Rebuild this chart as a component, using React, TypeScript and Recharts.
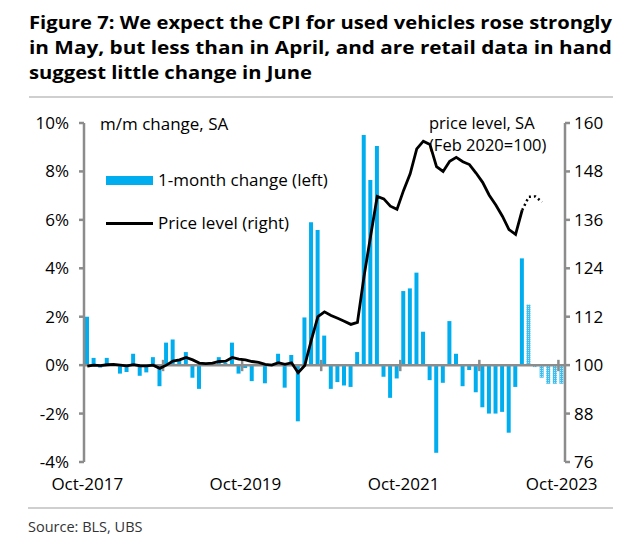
import React from 'react';
import { ComposedChart, Bar, Line, XAxis, YAxis, ReferenceLine, Cell } from 'recharts';

const FONT = '"Open Sans", "Noto Sans", sans-serif';
const BLUE = '#00AEEF';
const GREY = '#8c8c8c';

// Monthly, Oct-2017 .. Oct-2023
const changes: number[] = [
  2.0, 0.3, -0.1, 0.3, 0.03, -0.35, -0.28, 0.47, -0.44, -0.3, 0.33, -0.87,
  0.93, 1.06, 0.18, 0.54, -0.52, -0.98, 0.05, 0.1, 0.33, 0.1, 0.93, -0.35,
  -0.12, -0.66, 0.05, -0.75, 0.05, 0.47, -0.93, 0.42, -2.32, 1.97, 5.9, 5.58,
  1.22, -0.98, -0.7, -0.84, -0.9, 0.54, 9.5, 7.65, 9.05, -0.48, -1.35, -0.55,
  3.06, 3.17, 3.82, 1.38, -0.62, -3.62, -0.73, 1.82, 0.47, -0.87, -0.2, -1.12,
  -1.74, -2.0, -2.0, -1.93, -2.79, -0.9, 4.41, 2.5, -0.08, -0.52, -0.77, -0.77,
  -0.77,
];
const forecastStart = 67; // May-2023 onwards are forecasts

const priceLevel: number[] = [
  99.75, 100.0, 99.9, 100.1, 100.2, 100.0, 99.8, 100.1, 99.85, 99.8, 100.0, 99.2,
  100.0, 101.0, 101.3, 101.9, 101.3, 100.5, 100.4, 100.5, 100.9, 101.0, 101.9, 101.5,
  101.3, 100.9, 100.7, 100.2, 100.0, 100.6, 100.2, 100.6, 98.1, 99.9, 106.2, 112.0,
  113.2, 112.3, 111.6, 110.9, 110.1, 110.6, 122.0, 132.0, 141.8, 141.2, 139.4, 138.6,
  143.3, 147.4, 153.6, 155.5, 154.7, 149.2, 148.0, 150.5, 151.5, 150.4, 149.7, 147.6,
  145.3, 142.1, 139.7, 136.9, 133.6, 132.4, 138.4,
];
const priceForecast: number[] = [138.4, 141.7, 141.8, 140.4]; // Apr-2023 .. Jul-2023
const priceForecastStart = 66;

const leftTicks = [-4, -2, 0, 2, 4, 6, 8, 10];
const rightTicks = [76, 88, 100, 112, 124, 136, 148, 160];
const xLabelTicks = [0.5, 24.5, 48.5, 72.5];
const xLabels = ['Oct-2017', 'Oct-2019', 'Oct-2021', 'Oct-2023'];
const yearTicks = [12, 24, 36, 48, 60, 72];

const titleLines = [
  'Figure 7: We expect the CPI for used vehicles rose strongly',
  'in May, but less than in April, and are retail data in hand',
  'suggest little change in June',
];

const data = changes.map((c, i) => ({
  x: i + 0.5,
  chg: c,
  fc: i >= forecastStart,
  lvl: i < priceLevel.length ? priceLevel[i] : null,
  lvlF:
    i >= priceForecastStart && i < priceForecastStart + priceForecast.length
      ? priceForecast[i - priceForecastStart]
      : null,
}));

export default function App() {
  return (
    <div style={{ position: 'absolute', left: 0, top: 0, width: 640, height: 552, background: '#fff' }}>
      <div style={{ position: 'absolute', left: 0, top: 0 }}>
        <ComposedChart
          width={640}
          height={552}
          data={data}
          margin={{ top: 123, right: 15, bottom: 60, left: 24 }}
        >
          <defs>
            <pattern id="fcDots" width="2" height="2" patternUnits="userSpaceOnUse">
              <rect width="2" height="2" fill="#3fbdee" />
              <rect width="1" height="1" fill="#b3e6f9" />
            </pattern>
          </defs>
          <XAxis
            type="number"
            dataKey="x"
            domain={[0, 73]}
            ticks={xLabelTicks}
            tickFormatter={(v: number) => xLabels[xLabelTicks.indexOf(v)] ?? ''}
            axisLine={false}
            tickLine={false}
            tickSize={0}
            tickMargin={16}
            height={30}
            interval={0}
            tick={{ fill: '#000', fontSize: 17, fontFamily: FONT }}
          />
          <YAxis
            yAxisId="left"
            domain={[-4, 10]}
            ticks={leftTicks}
            tickFormatter={(v: number) => `${v}%`}
            width={60}
            interval={0}
            axisLine={{ stroke: GREY, strokeWidth: 2.5 }}
            tickLine={{ stroke: GREY, strokeWidth: 2.5 }}
            tickSize={5}
            tickMargin={10}
            tick={{ fill: '#000', fontSize: 17, fontFamily: FONT }}
          />
          <YAxis
            yAxisId="right"
            orientation="right"
            domain={[76, 160]}
            ticks={rightTicks}
            width={60}
            interval={0}
            axisLine={{ stroke: GREY, strokeWidth: 2.5 }}
            tickLine={{ stroke: GREY, strokeWidth: 2.5 }}
            tickSize={5}
            tickMargin={4}
            tick={{ fill: '#000', fontSize: 17, fontFamily: FONT, textAnchor: 'start' }}
          />
          <Bar dataKey="chg" yAxisId="left" barSize={4} isAnimationActive={false}>
            {data.map((d, i) => (
              <Cell key={i} fill={d.fc ? 'url(#fcDots)' : BLUE} />
            ))}
          </Bar>
          <ReferenceLine y={0} yAxisId="left" stroke={GREY} strokeWidth={2.5} />
          {yearTicks.map((t) => (
            <ReferenceLine
              key={t}
              yAxisId="left"
              segment={[{ x: t, y: -0.25 }, { x: t, y: 0.22 }]}
              stroke={GREY}
              strokeWidth={2.5}
            />
          ))}
          <Line
            dataKey="lvl"
            yAxisId="right"
            type="linear"
            stroke="#000"
            strokeWidth={2.8}
            dot={false}
            isAnimationActive={false}
            connectNulls={false}
          />
          <Line
            dataKey="lvlF"
            yAxisId="right"
            type="linear"
            stroke="#000"
            strokeWidth={2.5}
            strokeDasharray="2 3"
            dot={false}
            isAnimationActive={false}
            connectNulls={false}
          />
        </ComposedChart>
      </div>
      <svg
        width={640}
        height={552}
        style={{ position: 'absolute', left: 0, top: 0, pointerEvents: 'none' }}
        fontFamily={FONT}
      >
        {titleLines.map((t, i) => (
          <text
            key={i}
            x={29}
            y={29 + i * 25}
            fontSize={18.5}
            fontWeight={700}
            fill="#000"
            textLength={i < 2 ? 583 : 283}
            lengthAdjust="spacingAndGlyphs"
          >
            {t}
          </text>
        ))}
        <line x1={29} x2={613} y1={97} y2={97} stroke="#cfcfcf" strokeWidth={2} />
        <text x={100} y={130} fontSize={17} fill="#000">m/m change, SA</text>
        <text x={429} y={129} fontSize={16.5} fill="#000">price level, SA</text>
        <text x={429} y={151} fontSize={16.5} fill="#000">(Feb 2020=100)</text>
        <rect x={106} y={176} width={47} height={9} fill={BLUE} />
        <text x={158} y={186} fontSize={17} fill="#000">1-month change (left)</text>
        <line x1={106} x2={153} y1={223.5} y2={223.5} stroke="#000" strokeWidth={3} />
        <text x={158} y={229} fontSize={17} fill="#000">Price level (right)</text>
        <line x1={28} x2={613} y1={508} y2={508} stroke="#cfcfcf" strokeWidth={2} />
        <text x={28} y={532} fontSize={14.5} fill="#333">Source: BLS, UBS</text>
      </svg>
    </div>
  );
}
